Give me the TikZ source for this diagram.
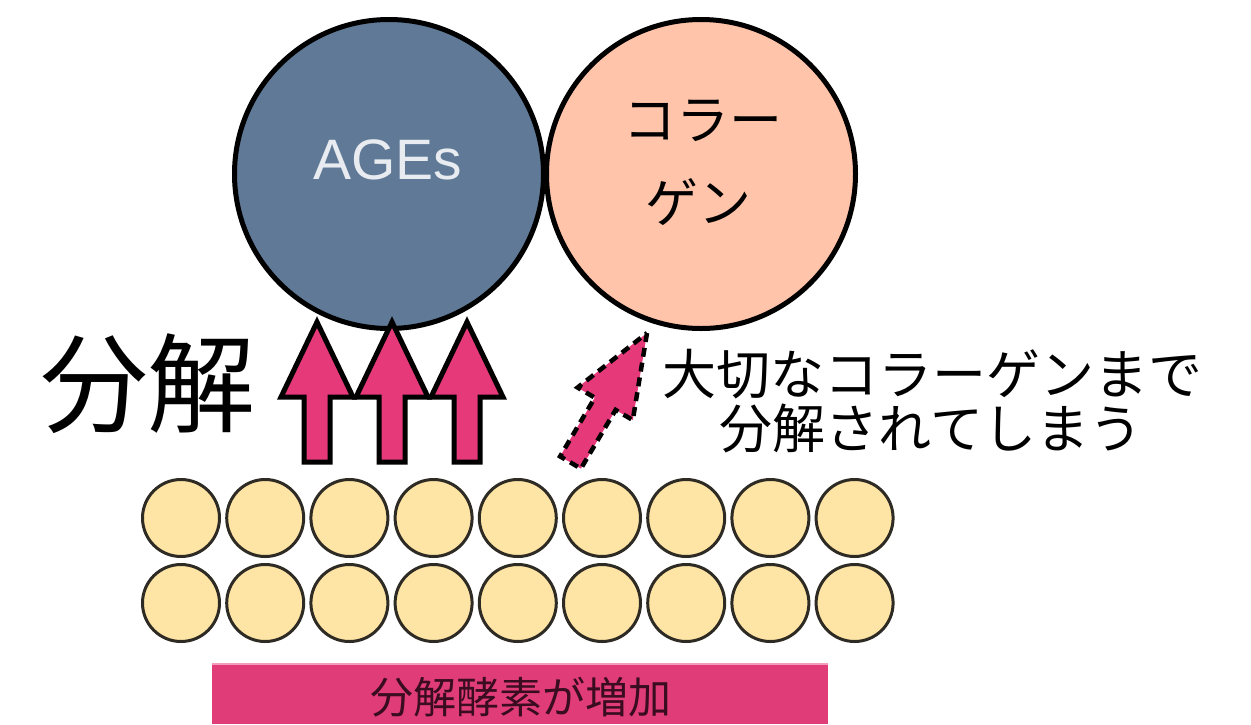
\documentclass[tikz,border=0pt]{standalone}
\usepackage{fontspec}
\setmainfont{Liberation Sans}
\newfontfamily\jp{Noto Sans CJK JP}
\definecolor{agesblue}{HTML}{5F7996}
\definecolor{collpeach}{HTML}{FFC4AA}
\definecolor{beadfill}{HTML}{FFE5A5}
\definecolor{beadline}{HTML}{2E2A24}
\definecolor{arrowpink}{HTML}{E5397A}
\definecolor{barpink}{HTML}{E03C78}
\definecolor{barline}{HTML}{F49CBE}
\definecolor{agestext}{HTML}{E8ECF0}
\definecolor{bartext}{HTML}{3A0C20}
\begin{document}
\begin{tikzpicture}[x=1pt,y=-1pt,
  big/.style={circle,draw=black,line width=5pt,minimum size=309pt,inner sep=0pt},
  bead/.style={circle,draw=beadline,fill=beadfill,line width=3pt,minimum size=77pt,inner sep=0pt},
  uparrow/.style={fill=arrowpink,draw=black,line width=5pt,line join=miter},
  dasharrow/.style={fill=arrowpink,draw=black,line width=4.5pt,dash pattern=on 9pt off 6pt},
  jptext/.style={inner sep=0pt,font=\jp\fontsize{#1}{#1}\selectfont},
  ]
\useasboundingbox (0,0) rectangle (1251,724);
\fill[white] (0,0) rectangle (1251,724);

% big circles
\node[big,fill=agesblue] (ages) at (389,174) {};
\node[big,fill=collpeach] (coll) at (701,174) {};
\node[inner sep=0pt,text=agestext,font=\fontsize{57}{60}\selectfont] (agestxt) at (388,160) {AGEs};
\node[jptext=53] (coll1) at (703,121) {コラー};
\node[jptext=53] (coll2) at (698,202) {ゲン};

% up arrows
\foreach \x in {317,392,467}{
  \draw[uparrow] (\x,322) -- (\x+36,397) -- (\x+13,397) -- (\x+13,462)
    -- (\x-13,462) -- (\x-13,397) -- (\x-36,397) -- cycle;
}

% dashed arrow
\draw[dasharrow] (647,333) -- (632.8,420.1) -- (615.6,409.9) -- (580.9,468.6)
  -- (560.1,456.4) -- (594.8,397.7) -- (577.6,387.5) -- cycle;

% labels
\node[jptext=108] (bunkai) at (148,384) {分解};
\node[jptext=54] (note1) at (932,374) {大切なコラーゲンまで};
\node[jptext=53] (note2) at (931,428) {分解されてしまう};

% beads
\foreach \i in {0,...,8}{
  \node[bead] (ba-\i) at (181+84.2*\i,518) {};
  \node[bead] (bb-\i) at (181+84.2*\i,603) {};
}

% bottom bar
\fill[barpink] (212,663) rectangle (828,724);
\draw[barline,line width=2pt] (212,664) -- (828,664);
\node[jptext=43,text=bartext] (bartxt) at (521,697) {分解酵素が増加};
\end{tikzpicture}
\end{document}
